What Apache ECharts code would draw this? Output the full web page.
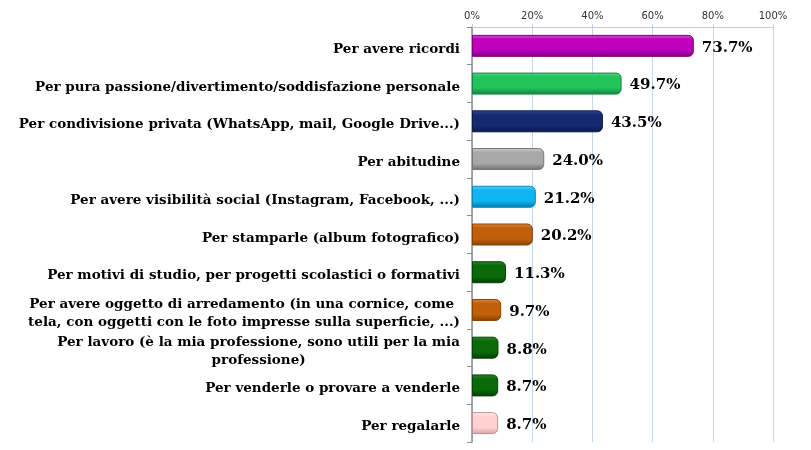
<!DOCTYPE html>
<html><head><meta charset="utf-8">
<script src="https://cdn.jsdelivr.net/npm/echarts@6/dist/echarts.min.js"></script>
<style>html,body{margin:0;padding:0;background:#fff}#c{width:811px;height:450px}</style>
</head><body><div id="c"></div>
<script>
const categories = [
  "Per avere ricordi",
  "Per pura passione/divertimento/soddisfazione personale",
  "Per condivisione privata (WhatsApp, mail, Google Drive...)",
  "Per abitudine",
  "Per avere visibilità social (Instagram, Facebook, ...)",
  "Per stamparle (album fotografico)",
  "Per motivi di studio, per progetti scolastici o formativi",
  "Per avere oggetto di arredamento (in una cornice, come \ntela, con oggetti con le foto impresse sulla superficie, ...)",
  "Per lavoro (è la mia professione, sono utili per la mia\nprofessione)",
  "Per venderle o provare a venderle",
  "Per regalarle"
];
const values = [73.7, 49.7, 43.5, 24.0, 21.2, 20.2, 11.3, 9.7, 8.8, 8.7, 8.7];
const tickLabels = ["0%", "20%", "40%", "60%", "80%", "100%"];
// [top highlight, main, bottom shade, border]
const palette = [
  ["#e050e0", "#bc00bc", "#7a007a", "#800080"],
  ["#50d880", "#22c35a", "#108040", "#14884a"],
  ["#3a4c90", "#152a70", "#08164a", "#0a1a50"],
  ["#cfcfcf", "#a8a8a8", "#6e6e6e", "#777777"],
  ["#60d4ff", "#10b4ee", "#0078a8", "#0a86b8"],
  ["#e08a40", "#c0600a", "#844000", "#8a4200"],
  ["#2a8a2a", "#0a6a0a", "#033c03", "#044404"],
  ["#e08a40", "#c0600a", "#844000", "#8a4200"],
  ["#2a8a2a", "#0a6a0a", "#033c03", "#044404"],
  ["#2a8a2a", "#0a6a0a", "#033c03", "#044404"],
  ["#fff0f0", "#ffd2d2", "#d8a0a0", "#c09090"]
];

function grad(p) {
  return new echarts.graphic.LinearGradient(0, 0, 0, 1, [
    {offset: 0, color: p[0]},
    {offset: 0.2, color: p[1]},
    {offset: 0.7, color: p[1]},
    {offset: 1, color: p[2]}
  ]);
}

const chart = echarts.init(document.getElementById('c'), null, {renderer: 'canvas'});
chart.setOption({
  animation: false,
  grid: {left: 472, right: 38, top: 27, bottom: 8, containLabel: false},
  xAxis: {
    type: 'value', position: 'top', min: 0, max: 100, interval: 20,
    axisLine: {show: true, lineStyle: {color: '#b8cde6', width: 1}},
    axisTick: {show: true, length: 3, lineStyle: {color: '#b8cde6'}},
    splitLine: {show: true, lineStyle: {color: '#c4d6ec', width: 1}},
    axisLabel: {
      margin: 6, color: '#333', fontFamily: 'DejaVu Sans', fontSize: 10,
      formatter: (v) => tickLabels[Math.round(v / 20)]
    }
  },
  yAxis: {
    type: 'category', data: categories, inverse: true,
    axisLine: {show: true, lineStyle: {color: '#8c8c8c', width: 1.5}},
    axisTick: {show: true, length: 5, lineStyle: {color: '#8c8c8c'}},
    axisLabel: {
      margin: 12, color: '#000', fontFamily: 'DejaVu Serif', fontWeight: 'bold', fontSize: 13.5,
      lineHeight: 18, padding: [7, 0, 0, 0],
      formatter: (v) => v.split('\n').map(l => '{c|' + l + '}').join('\n'),
      rich: {c: {align: 'center', fontFamily: 'DejaVu Serif', fontWeight: 'bold', fontSize: 13.5, lineHeight: 18, color: '#000'}}
    }
  },
  series: [{
    type: 'bar', barWidth: 22,
    data: values.map((v, i) => ({
      value: v,
      itemStyle: {color: grad(palette[i]), borderColor: palette[i][3], borderWidth: 1, borderRadius: [0, 5, 5, 0]}
    })),
    label: {
      show: true, position: 'right', distance: 8, offset: [0, 2],
      fontFamily: 'DejaVu Serif', fontWeight: 'bold', fontSize: 15, color: '#000',
      formatter: (p) => p.value.toFixed(1) + '%'
    }
  }]
});
</script></body></html>
